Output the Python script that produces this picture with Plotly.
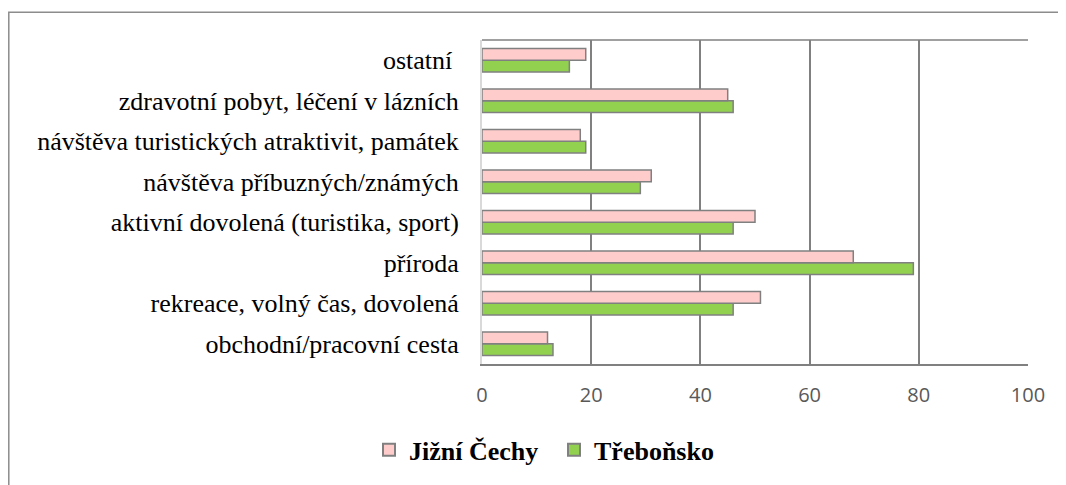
import plotly.graph_objects as go

categories = [
    "obchodní/pracovní cesta",
    "rekreace, volný čas, dovolená",
    "příroda",
    "aktivní dovolená (turistika, sport)",
    "návštěva příbuzných/známých",
    "návštěva turistických atraktivit, památek",
    "zdravotní pobyt, léčení v lázních",
    "ostatní ",
]
jizni_cechy = [12, 51, 68, 50, 31, 18, 45, 19]
trebonsko = [13, 46, 79, 46, 29, 19, 46, 16]
x_ticks = [0, 20, 40, 60, 80, 100]

SERIF = "Times New Roman, Liberation Serif, serif"

# page body has an 8px margin, so the figure is drawn 8px in from the window edge
W, H = 1058, 477
L, R, T, B = 474, 38, 32, 117
pw, ph = W - L - R, H - T - B

fig = go.Figure()
fig.add_trace(go.Bar(
    y=categories, x=trebonsko, orientation="h", name="Třeboňsko",
    marker=dict(color="#92D050", line=dict(color="#808080", width=1.5)),
    legendrank=2,
))
fig.add_trace(go.Bar(
    y=categories, x=jizni_cechy, orientation="h", name="Jižní Čechy",
    marker=dict(color="#FFCCCC", line=dict(color="#808080", width=1.5)),
    legendrank=1,
))

def px_x(p):
    return (p - L) / pw

def px_y(p):
    return (T + ph - p) / ph

shapes = [
    # outer chart border
    dict(type="rect", xref="paper", yref="paper",
         x0=px_x(0.8), x1=px_x(1070), y0=px_y(495), y1=px_y(4),
         line=dict(color="#8c8c8c", width=1.5), layer="below"),
    # top border of plot area
    dict(type="line", xref="paper", yref="paper", x0=0, x1=1, y0=1, y1=1,
         line=dict(color="#808080", width=1.5)),
]

fig.update_layout(
    width=W, height=H,
    margin=dict(l=L, r=R, t=T, b=B),
    paper_bgcolor="white", plot_bgcolor="white",
    barmode="group", bargap=0.42, bargroupgap=0,
    shapes=shapes,
    showlegend=True,
    legend=dict(orientation="h", x=px_x(361), xanchor="left", y=px_y(447), yanchor="middle",
                font=dict(family=SERIF, size=26, color="black", weight="bold"),
                entrywidth=140, entrywidthmode="pixels",
                itemsizing="constant", tracegroupgap=0),
    xaxis=dict(range=[0, 100], tickvals=x_ticks, showgrid=True,
               gridcolor="#808080", gridwidth=1.5,
               showline=True, linecolor="#808080", linewidth=1.5,
               zeroline=False, ticks="", ticklabelstandoff=12,
               tickfont=dict(family="Open Sans", size=20, color="#595959")),
    yaxis=dict(showline=True, linecolor="#d9d9d9", linewidth=2,
               ticks="", ticklabelstandoff=16,
               tickfont=dict(family=SERIF, size=26, color="black")),
)

fig.write_html("out.html")
